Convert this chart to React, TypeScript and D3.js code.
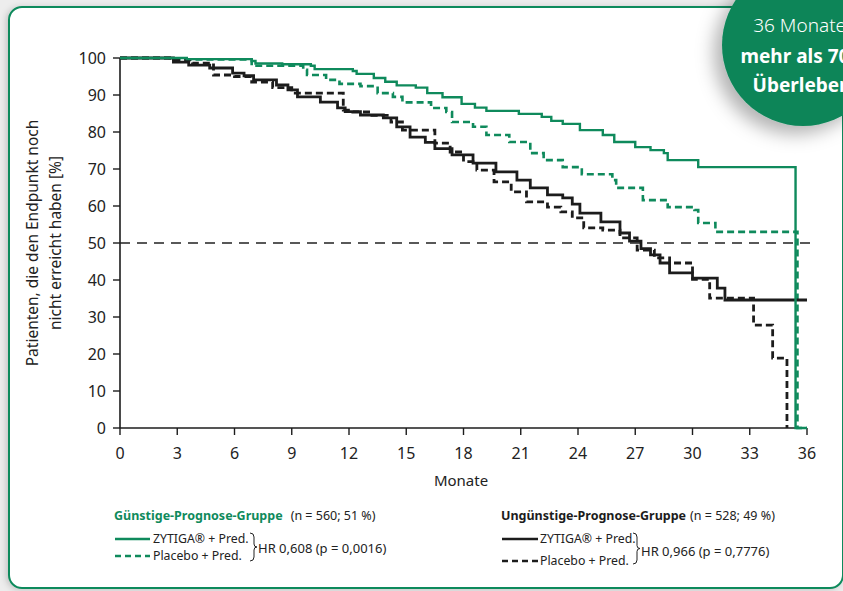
import React from 'react'
import * as d3 from 'd3'

// Kaplan-Meier curves: [month, percent]
const favZytiga: [number, number][] = [
  [0, 100], [3.5, 99.7], [6.9, 99.2], [7.1, 98.5], [8.5, 98.3], [10.0, 97.9], [10.2, 97.0],
  [12.2, 96.5], [12.4, 95.7], [13.3, 94.6], [13.9, 93.6], [14.5, 92.6], [15.5, 92.0],
  [16.1, 90.5], [16.9, 89.4], [17.9, 87.6], [18.6, 86.6], [19.2, 85.7], [20.9, 84.9],
  [22.1, 84.1], [22.6, 83.0], [23.2, 82.2], [24.1, 80.5], [25.3, 79.2], [25.9, 77.3],
  [27.0, 75.9], [27.8, 75.1], [28.5, 74.3], [28.7, 72.4], [30.3, 70.5], [35.4, 0], [36, 0],
]
const favPlacebo: [number, number][] = [
  [0, 100], [2.6, 99.6], [6.9, 97.9], [9.6, 96.8], [9.8, 95.4], [10.8, 94.1], [11.5, 93.0],
  [12.6, 92.4], [13.5, 90.5], [14.3, 89.5], [14.8, 88.0], [16.3, 86.5], [17.1, 85.4],
  [17.4, 82.7], [18.5, 81.4], [19.2, 79.2], [20.4, 77.3], [21.5, 74.3], [22.2, 72.4],
  [23.2, 70.5], [24.2, 68.6], [25.8, 67.0], [26.0, 64.9], [27.4, 61.6], [28.7, 59.7],
  [30.1, 58.9], [30.3, 55.4], [31.2, 53.0], [35.5, 0], [36, 0],
]
const unfavZytiga: [number, number][] = [
  [0, 100], [2.8, 98.9], [3.6, 98.1], [4.7, 97.3], [5.9, 95.9], [6.5, 95.2], [7.0, 94.1],
  [8.2, 92.7], [8.8, 91.4], [9.3, 89.5], [10.5, 88.1], [11.4, 86.5], [11.8, 85.5],
  [12.6, 84.6], [13.8, 83.8], [14.5, 81.4], [15.2, 78.6], [16.0, 77.2], [16.5, 75.5],
  [17.4, 73.8], [18.5, 71.6], [19.7, 69.2], [20.8, 67.0], [21.5, 64.9], [22.4, 63.0],
  [23.2, 62.2], [23.7, 60.5], [24.1, 58.1], [25.2, 55.7], [26.2, 52.7], [26.7, 50.5],
  [27.3, 48.5], [27.8, 46.8], [28.3, 44.6], [28.8, 41.9], [30.0, 40.5], [31.3, 37.8],
  [31.7, 34.6], [36, 34.6],
]
const unfavPlacebo: [number, number][] = [
  [0, 100], [2.6, 99.5], [3.8, 98.6], [4.9, 95.4], [6.0, 95.0], [6.9, 93.5], [8.0, 92.0],
  [9.0, 90.5], [11.7, 85.9], [12.2, 85.4], [13.2, 84.5], [14.2, 82.7], [14.8, 80.5],
  [16.5, 77.0], [17.3, 74.6], [18.0, 72.0], [18.7, 69.7], [19.6, 66.5], [20.5, 63.8],
  [21.3, 61.1], [22.4, 59.7], [23.1, 58.4], [23.7, 56.8], [24.3, 54.1], [25.3, 53.5],
  [26.2, 51.4], [27.1, 48.1], [28.0, 46.0], [28.8, 44.6], [30.0, 40.2], [30.9, 35.1],
  [33.2, 27.8], [34.2, 18.9], [34.95, 0],
]

const xTicks = d3.range(0, 37, 3)
const yTicks = d3.range(0, 101, 10)

const GREEN = '#0f8a5c'
const BLACK = '#1c1c1c'
const FONT = '"Noto Sans", sans-serif'

function brace(x: number, top: number, bottom: number) {
  const mid = (top + bottom) / 2
  return `M${x},${top} q4,0 4,4 L${x + 4},${mid - 3} q0,3 3,3 q-3,0 -3,3 L${x + 4},${bottom - 4} q0,4 -4,4`
}

export default function App() {
  const x = d3.scaleLinear().domain([0, 36]).range([120, 807])
  const y = d3.scaleLinear().domain([0, 100]).range([428, 58])
  const line = d3.line<[number, number]>()
    .x(d => x(d[0]))
    .y(d => y(d[1]))
    .curve(d3.curveStepAfter)

  return (
    <div style={{ position: 'absolute', left: 0, top: 0 }}>
      <svg width={843} height={591} style={{ display: 'block', fontFamily: FONT }}>
        <defs>
          <filter id="cardShadow" x="-5%" y="-5%" width="110%" height="110%">
            <feDropShadow dx="-2" dy="1" stdDeviation="3" floodColor="#000" floodOpacity="0.18" />
          </filter>
          <filter id="badgeShadow" x="-50%" y="-50%" width="200%" height="200%">
            <feDropShadow dx="-8" dy="8" stdDeviation="9" floodColor="#000" floodOpacity="0.3" />
          </filter>
        </defs>
        <rect x={0} y={0} width={843} height={591} fill="#ededed" />
        <rect x={9} y={7} width={834} height={581} rx={13} fill="#fff" stroke={GREEN} strokeWidth={2}
          filter="url(#cardShadow)" />

        {/* y axis */}
        <line x1={120} x2={120} y1={y(100)} y2={y(0)} stroke={BLACK} strokeWidth={1.6} />
        {yTicks.map(t => (
          <g key={'y' + t}>
            <line x1={113} x2={120} y1={y(t)} y2={y(t)} stroke={BLACK} strokeWidth={1.4} />
            <text x={106} y={y(t) + 6} textAnchor="end" fontSize={16} fill="#222">{t}</text>
          </g>
        ))}
        {/* x axis */}
        <line x1={120} x2={807} y1={y(0)} y2={y(0)} stroke={BLACK} strokeWidth={1.6} />
        {xTicks.map(t => (
          <g key={'x' + t}>
            <line x1={x(t)} x2={x(t)} y1={428} y2={435} stroke={BLACK} strokeWidth={1.4} />
            <text x={x(t)} y={459} textAnchor="middle" fontSize={16} fill="#222">{t}</text>
          </g>
        ))}
        <text x={461} y={486} textAnchor="middle" fontSize={15} fill="#222">Monate</text>
        <text transform={`translate(38,${y(50)}) rotate(-90)`} textAnchor="middle" fontSize={15.5} fill="#222">
          Patienten, die den Endpunkt noch
        </text>
        <text transform={`translate(61,${y(50)}) rotate(-90)`} textAnchor="middle" fontSize={15.5} fill="#222">
          nicht erreicht haben [%]
        </text>

        {/* median line */}
        <line x1={x(0)} x2={x(36.2)} y1={y(50)} y2={y(50)} stroke="#222" strokeWidth={1.3} strokeDasharray="10,7" />

        <path d={line(favPlacebo) ?? ''} fill="none" stroke={GREEN} strokeWidth={2.6} strokeDasharray="7,4" />
        <path d={line(unfavPlacebo) ?? ''} fill="none" stroke={BLACK} strokeWidth={2.8} strokeDasharray="7,4" />
        <path d={line(unfavZytiga) ?? ''} fill="none" stroke={BLACK} strokeWidth={2.8} />
        <path d={line(favZytiga) ?? ''} fill="none" stroke={GREEN} strokeWidth={2.4} />

        {/* legend left */}
        <text x={114} y={520} fontSize={12.5} fill="#222">
          <tspan fill={GREEN} fontWeight={700}>Günstige-Prognose-Gruppe</tspan>
          <tspan dx={8}>(n = 560; 51 %)</tspan>
        </text>
        <line x1={115} x2={150} y1={539} y2={539} stroke={GREEN} strokeWidth={2.6} />
        <text x={153} y={543} fontSize={12.3} fill="#222">ZYTIGA® + Pred.</text>
        <line x1={115} x2={150} y1={556} y2={556} stroke={GREEN} strokeWidth={2.6} strokeDasharray="6,4" />
        <text x={153} y={560} fontSize={12.3} fill="#222">Placebo + Pred.</text>
        <path d={brace(250, 533, 561)} fill="none" stroke="#222" strokeWidth={1} />
        <text x={258} y={553} fontSize={13} fill="#222">HR 0,608 (p = 0,0016)</text>

        {/* legend right */}
        <text x={501} y={520} fontSize={12.5} fill="#222">
          <tspan fill={BLACK} fontWeight={700}>Ungünstige-Prognose-Gruppe</tspan>
          <tspan dx={4}>(n = 528; 49 %)</tspan>
        </text>
        <line x1={502} x2={538} y1={539} y2={539} stroke={BLACK} strokeWidth={2.6} />
        <text x={540} y={543} fontSize={12.3} fill="#222">ZYTIGA® + Pred.</text>
        <line x1={502} x2={538} y1={561} y2={561} stroke={BLACK} strokeWidth={2.6} strokeDasharray="6,4" />
        <text x={540} y={565} fontSize={12.3} fill="#222">Placebo + Pred.</text>
        <path d={brace(633, 533, 564)} fill="none" stroke="#222" strokeWidth={1} />
        <text x={641} y={556} fontSize={13} fill="#222">HR 0,966 (p = 0,7776)</text>

        {/* badge */}
        <circle cx={803} cy={45} r={81} fill="#0b8558" filter="url(#badgeShadow)" />
        <text x={802} y={32} textAnchor="middle" fontSize={19} fill="#fff" fontWeight={300}>36 Monate:</text>
        <text x={806} y={63} textAnchor="middle" fontSize={19} fill="#fff" fontWeight={700}>mehr als 70 %</text>
        <text x={802} y={92} textAnchor="middle" fontSize={19} fill="#fff" fontWeight={700}>Überleben</text>
      </svg>
    </div>
  )
}
